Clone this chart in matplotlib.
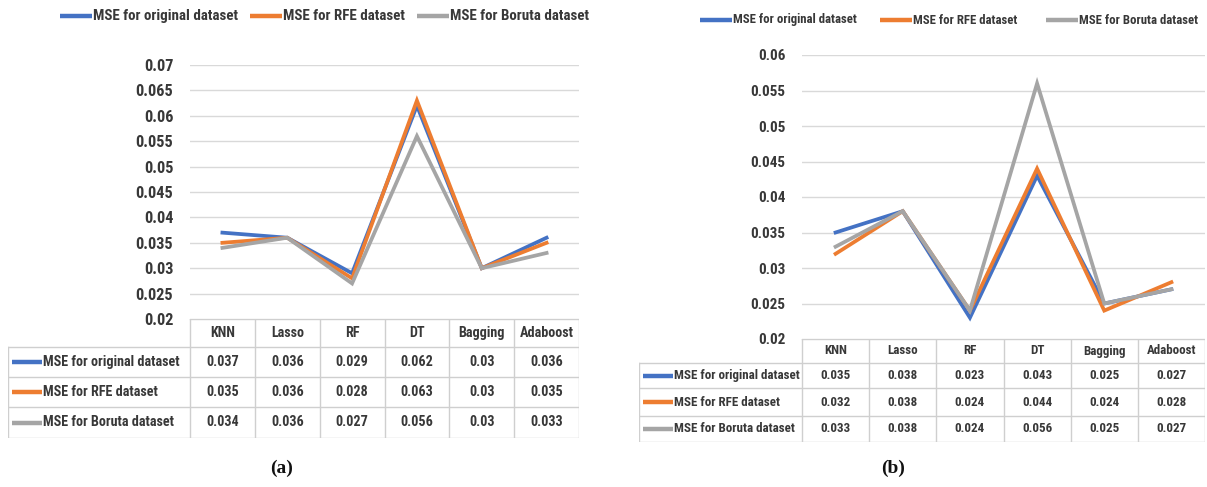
import matplotlib
matplotlib.use("Agg")
import matplotlib.pyplot as plt

plt.rcParams['font.family'] = ['Roboto Condensed', 'Lato', 'DejaVu Sans']

W, H = 1207, 487

models = ['KNN', 'Lasso', 'RF', 'DT', 'Bagging', 'Adaboost']
series_names = ['MSE for original dataset', 'MSE for RFE dataset', 'MSE for Boruta dataset']
colors = ['#4472C4', '#ED7D31', '#A5A5A5']

# panel (a)
mse_a_original = [0.037, 0.036, 0.029, 0.062, 0.03, 0.036]
mse_a_rfe = [0.035, 0.036, 0.028, 0.063, 0.03, 0.035]
mse_a_boruta = [0.034, 0.036, 0.027, 0.056, 0.03, 0.033]
yticks_a = [0.02, 0.025, 0.03, 0.035, 0.04, 0.045, 0.05, 0.055, 0.06, 0.065, 0.07]

# panel (b)
mse_b_original = [0.035, 0.038, 0.023, 0.043, 0.025, 0.027]
mse_b_rfe = [0.032, 0.038, 0.024, 0.044, 0.024, 0.028]
mse_b_boruta = [0.033, 0.038, 0.024, 0.056, 0.025, 0.027]
yticks_b = [0.02, 0.025, 0.03, 0.035, 0.04, 0.045, 0.05, 0.055, 0.06]

TXT = '#383838'
GRID = '#d9d9d9'
WEIGHT = 'heavy'


def px_rect(x0, y0, x1, y1):
    return [x0 / W, 1 - y1 / H, (x1 - x0) / W, (y1 - y0) / H]


def draw_panel(fig, data, yticks, plot_box, table_box, row_lines, legend, fs, caption):
    x0, y0, x1, y1 = plot_box
    ax = fig.add_axes(px_rect(x0, y0, x1, y1))
    ax.set_xlim(-0.5, len(models) - 0.5)
    ax.set_ylim(yticks[0], yticks[-1])
    for t in yticks:
        ax.axhline(t, color=GRID, lw=1.0, zorder=0)
    for vals, c in zip(data, colors):
        ax.plot(range(len(models)), vals, color=c, lw=2.7, solid_joinstyle='miter', zorder=3)
    ax.set_yticks(yticks)
    ax.set_yticklabels([f'{t:g}' for t in yticks], fontsize=fs + 1.5, color=TXT, fontweight=WEIGHT)
    ax.set_xticks([])
    ax.tick_params(axis='y', length=0, pad=12)
    for s in ax.spines.values():
        s.set_visible(False)
    ax.patch.set_alpha(0)

    # data table under the plot, drawn in pixel coordinates
    tl, tt, tr, tb = table_box
    at = fig.add_axes(px_rect(tl, tt, tr, tb))
    at.set_xlim(tl, tr)
    at.set_ylim(tb, tt)
    at.axis('off')
    col_w = (tr - x0) / len(models)
    edges = [tt] + row_lines + [tb]
    lc = '#cfcfcf'
    at.plot([x0, tr], [tt, tt], color=lc, lw=1)
    for y in edges[1:]:
        at.plot([tl, tr], [y, y], color=lc, lw=1)
    at.plot([tl, tl], [edges[1], tb], color=lc, lw=1)
    for i in range(len(models) + 1):
        xx = x0 + i * col_w
        at.plot([xx, xx], [tt, tb], color=lc, lw=1)
    for i, m in enumerate(models):
        at.text(x0 + (i + 0.5) * col_w, (edges[0] + edges[1]) / 2, m,
                ha='center', va='center', fontsize=fs, color=TXT, fontweight=WEIGHT)
    for r, (vals, c, name) in enumerate(zip(data, colors, series_names)):
        yc = (edges[r + 1] + edges[r + 2]) / 2
        at.plot([tl + 4, tl + 34], [yc, yc], color=c, lw=3.2, solid_capstyle='butt')
        at.text(tl + 35, yc, name, ha='left', va='center', fontsize=fs, color=TXT, fontweight=WEIGHT)
        for i, v in enumerate(vals):
            at.text(x0 + (i + 0.5) * col_w, yc, f'{v:g}', ha='center', va='center',
                    fontsize=fs, color=TXT, fontweight=WEIGHT)

    # legend across the top
    ly, starts, lfs = legend
    for sx, c, name in zip(starts, colors, series_names):
        fig.add_artist(plt.Line2D([sx / W, (sx + 32) / W], [1 - ly / H, 1 - ly / H],
                                  color=c, lw=3.2, solid_capstyle='butt'))
        fig.text((sx + 33) / W, 1 - ly / H, name, ha='left', va='center',
                 fontsize=lfs, color=TXT, fontweight=WEIGHT)

    cx, cy = caption[1]
    fig.text(cx / W, 1 - cy / H, caption[0], ha='center', va='center', fontsize=14,
             family='Liberation Serif', fontweight='bold', color='#111111')


fig = plt.figure(figsize=(W / 100, H / 100), dpi=100)

draw_panel(fig, [mse_a_original, mse_a_rfe, mse_a_boruta], yticks_a,
           (190, 65, 579, 319), (8, 319, 579, 438), [347, 377, 407],
           (16, [60, 250, 417], 10.8), 10.2, ('(a)', (282, 468)))

draw_panel(fig, [mse_b_original, mse_b_rfe, mse_b_boruta], yticks_b,
           (802, 55, 1205, 339), (639, 339, 1205, 442), [363, 388, 416],
           (20, [700, 880, 1046], 9.2), 9.4, ('(b)', (893, 468)))

fig.savefig('out.png', dpi=100, facecolor='white')
